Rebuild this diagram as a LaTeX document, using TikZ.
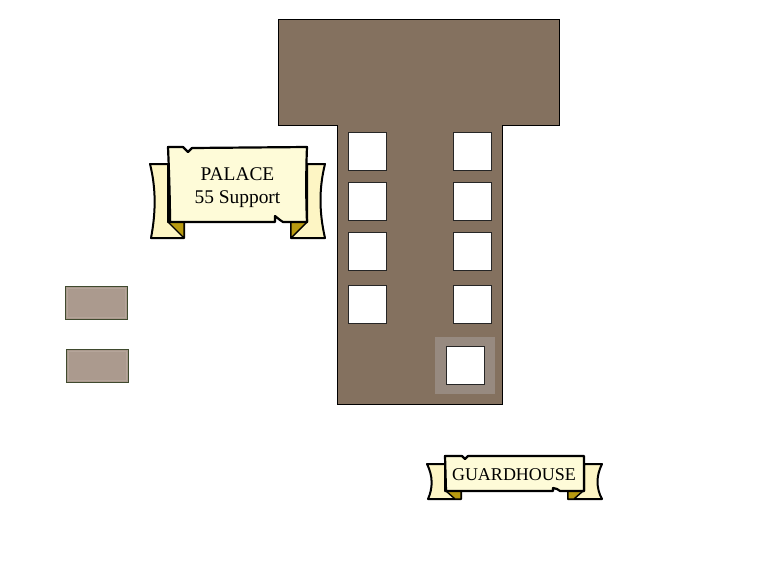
\documentclass[tikz,border=0pt]{standalone}
\usepackage{fontspec}
\setmainfont{Liberation Serif}
\definecolor{build}{HTML}{84715F}
\definecolor{cream}{HTML}{FEFBD8}
\definecolor{tailc}{HTML}{FDF5C4}
\definecolor{gold}{HTML}{B89A10}
\definecolor{plot}{HTML}{AB9A8E}
\definecolor{plotedge}{HTML}{3F4A2E}
\definecolor{plotin}{HTML}{B5A59A}
\definecolor{halo}{HTML}{978A80}
\tikzset{
  hall/.style={fill=build,draw=black,line width=0.8pt},
  room/.style={draw=black!85,fill=white,line width=0.8pt,minimum width=38pt,minimum height=38pt,inner sep=0pt},
  plotbox/.style={draw=plotedge,fill=plot,line width=1.5pt,inner sep=0pt,minimum width=62pt,minimum height=33pt},
  plotline/.style={draw=plotin,line width=1pt},
  halobox/.style={fill=halo,inner sep=0pt,minimum width=60pt,minimum height=57pt},
  tail/.style={fill=tailc,draw=black,line width=2pt,line join=round},
  fold/.style={fill=gold,draw=black,line width=1.4pt,line join=round},
  scroll/.style={fill=cream,draw=black,line width=2.2pt,line join=round},
  label/.style={align=center,inner sep=0pt,text=black}
}
\begin{document}
\begin{tikzpicture}[x=1pt,y=-1pt]
\useasboundingbox (0,0) rectangle (778,560);
% building
\path[hall] (278,19) -- (559,19) -- (559,125.5) -- (502.5,125.5) -- (502.5,404.5) -- (337.5,404.5) -- (337.5,125.5) -- (278,125.5) -- cycle;
\node[halobox] (h) at (465,365) {};
\foreach \n/\x/\y in {a/367.5/151,b/367.5/201,c/367.5/251,d/367.5/304,e/472.5/151,f/472.5/201,g/472.5/251,i/472.5/304}
  \node[room] (\n) at (\x,\y) {};
\node[room] (j) at (465,365.5) {};
% plots
\node[plotbox] (p1) at (96.5,303) {};
\node[plotbox] (p2) at (97.5,366) {};
\draw[plotline] ([shift={(2.5pt,2.5pt)}]p1.south west) rectangle ([shift={(-2.5pt,-2.5pt)}]p1.north east);
\draw[plotline] ([shift={(2.5pt,2.5pt)}]p2.south west) rectangle ([shift={(-2.5pt,-2.5pt)}]p2.north east);
% palace banner
\path[tail] (168,164) -- (150,164) .. controls (156,188) and (156,212) .. (151,238) -- (184,238) -- (184,222) -- (168,222) -- cycle;
\path[fold] (168,222) -- (184,222) -- (184,238) -- cycle;
\path[tail] (307,164) -- (325,164) .. controls (319,188) and (319,212) .. (325,238) -- (291,238) -- (291,222) -- (307,222) -- cycle;
\path[fold] (307,222) -- (291,222) -- (291,238) -- cycle;
\path[scroll] (168,147) -- (183,147) -- (188,152) -- (192,148) -- (307,147) .. controls (306,170) and (306,200) .. (307,222) -- (283,222) -- (280,220) -- (275,216) -- (275,222) -- (170,222) .. controls (170,200) and (169,170) .. (168,147) -- cycle;
\node[label,font=\fontsize{19.4}{23}\selectfont] (palace) at (237.5,188) {PALACE\\55 Support};
% guardhouse banner
\path[tail] (445,464) -- (427,464) .. controls (433,476) and (433,488) .. (428,499) -- (461,499) -- (461,491) -- (445,491) -- cycle;
\path[fold] (446,491) -- (461,491) -- (461,499) -- (455,499) -- cycle;
\path[tail] (584,464) -- (602,464) .. controls (596,476) and (596,488) .. (602,499) -- (568,499) -- (568,491) -- (584,491) -- cycle;
\path[fold] (583,491) -- (568,491) -- (568,499) -- (574,499) -- cycle;
\path[scroll] (445,456) -- (462,456) -- (465,459) -- (468,456) -- (584,456) -- (584,491) -- (560,491) -- (557,489) -- (553,488) -- (553,491) -- (446,491) -- cycle;
\node[label,font=\fontsize{18}{20}\selectfont] (guard) at (514,474.5) {GUARDHOUSE};
\end{tikzpicture}
\end{document}
